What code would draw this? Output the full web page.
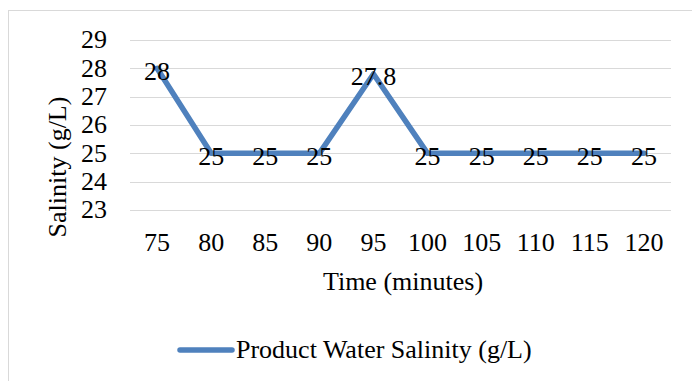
<!DOCTYPE html>
<html>
  <head>
    <meta charset="utf-8" />
    <style>
      body { margin: 0; background: #fff; }
    </style>
  </head>
  <body>
    <svg id="chart"></svg>

    <script src="https://d3js.org/d3.v7.min.js"></script>
    <script>
      // time in minutes and product water salinity in g/L
      const times = [75, 80, 85, 90, 95, 100, 105, 110, 115, 120];
      const salinity = [28, 25, 25, 25, 27.8, 25, 25, 25, 25, 25];
      const yTicks = [23, 24, 25, 26, 27, 28, 29];
      const seriesName = "Product Water Salinity (g/L)";

      const width = 692;
      const height = 381;
      const plotLeft = 130;
      const plotRight = 671;
      const plotTop = 40;
      const plotBottom = 210;
      const blue = "#4f81bd";
      const font = "'Liberation Serif', 'Times New Roman', Times, serif";

      const svg = d3
        .select("#chart")
        .attr("width", width)
        .attr("height", height)
        .attr("viewBox", [0, 0, width, height])
        .style("display", "block");

      const label = (sel) =>
        sel.style("font-family", font).style("font-size", "26px").attr("fill", "#000");

      // chart frame
      svg
        .append("rect")
        .attr("x", 8.5)
        .attr("y", 10.5)
        .attr("width", 700)
        .attr("height", 400)
        .attr("fill", "none")
        .attr("stroke", "#d9d9d9");

      const x = d3
        .scaleBand()
        .domain(times)
        .range([plotLeft, plotRight])
        .padding(0);

      const y = d3
        .scaleLinear()
        .domain([23, 29])
        .range([plotBottom, plotTop]);

      const cx = (t) => x(t) + x.bandwidth() / 2;

      // gridlines
      svg
        .append("g")
        .selectAll("line")
        .data(yTicks)
        .join("line")
        .attr("x1", plotLeft)
        .attr("x2", plotRight)
        .attr("y1", (d) => Math.round(y(d)) + 0.5)
        .attr("y2", (d) => Math.round(y(d)) + 0.5)
        .attr("stroke", "#d9d9d9")
        .attr("stroke-width", 1.2);

      // y tick labels
      svg
        .append("g")
        .selectAll("text")
        .data(yTicks)
        .join("text")
        .call(label)
        .attr("text-anchor", "end")
        .attr("x", 107)
        .attr("y", (d) => y(d))
        .attr("dy", "0.32em")
        .text((d) => d);

      // x tick labels
      svg
        .append("g")
        .selectAll("text")
        .data(times)
        .join("text")
        .call(label)
        .attr("text-anchor", "middle")
        .attr("x", (d) => cx(d))
        .attr("y", 243)
        .attr("dy", "0.32em")
        .text((d) => d);

      // axis titles
      svg
        .append("text")
        .call(label)
        .attr("text-anchor", "middle")
        .attr("transform", "translate(58,167) rotate(-90)")
        .attr("dy", "0.32em")
        .text("Salinity (g/L)");

      svg
        .append("text")
        .call(label)
        .attr("text-anchor", "middle")
        .attr("x", 403)
        .attr("y", 282)
        .attr("dy", "0.32em")
        .text("Time (minutes)");

      // series line
      const data = times.map((t, i) => ({ t, v: salinity[i] }));
      const line = d3
        .line()
        .x((d) => cx(d.t))
        .y((d) => y(d.v));

      svg
        .append("path")
        .datum(data)
        .attr("d", line)
        .attr("fill", "none")
        .attr("stroke", blue)
        .attr("stroke-width", 5.5)
        .attr("stroke-linejoin", "round")
        .attr("stroke-linecap", "round");

      // data labels, centered on the points
      svg
        .append("g")
        .selectAll("text")
        .data(data)
        .join("text")
        .call(label)
        .attr("text-anchor", "middle")
        .attr("x", (d) => cx(d.t))
        .attr("y", (d) => y(d.v) + 3)
        .attr("dy", "0.32em")
        .text((d) => d.v);

      // legend
      const legend = svg.append("g").attr("transform", "translate(180,350)");
      legend
        .append("line")
        .attr("x1", 0)
        .attr("x2", 52)
        .attr("stroke", blue)
        .attr("stroke-width", 5.5)
        .attr("stroke-linecap", "round");
      legend
        .append("text")
        .call(label)
        .attr("x", 56)
        .attr("dy", "0.32em")
        .text(seriesName);
    </script>
  </body>
</html>
